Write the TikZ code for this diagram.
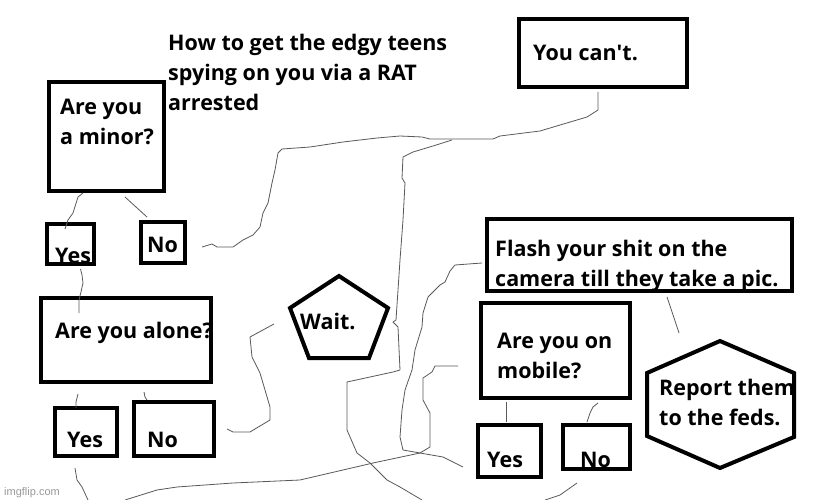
\documentclass[tikz,border=0pt]{standalone}
\usepackage{fontspec}
\setmainfont{Open Sans}
\newfontfamily\markfont{Liberation Sans}

\begin{document}
\begin{tikzpicture}[x=1pt, y=-1pt,
    txt/.style={anchor=base west, inner sep=0pt, align=left, font=\bfseries\fontsize{21.5}{30}\selectfont},
    box/.style={draw, line width=4pt, inner sep=0pt, outer sep=0pt},
    wire/.style={draw=black!65, line width=0.8pt, line join=round}]
  \fill[white] (0,0) rectangle (822,500);
  \useasboundingbox (0,0) rectangle (822,500);

  \node[txt] (ttl) at (168,111) {How to get the edgy teens\\spying on you via a RAT\\arrested};
  \node[txt] (q-minor) at (60,145) {Are you\\a minor?};
  \node[txt] (q-cant) at (533,61) {You can\textquotesingle t.};
  \node[txt] (a-yes1) at (55,263) {Yes};
  \node[txt] (a-no1) at (147,252) {No};
  \node[txt] (q-alone) at (55,338) {Are you alone?};
  \node[txt] (a-yes2) at (67,447) {Yes};
  \node[txt] (a-no2) at (147,447) {No};
  \node[txt] (q-wait) at (300,329) {Wait.};
  \node[txt] (q-flash) at (495,286) {Flash your shit on the\\camera till they take a pic.};
  \node[txt] (q-mobile) at (497,378) {Are you on\\mobile?};
  \node[txt] (a-yes3) at (487,467) {Yes};
  \node[txt] (a-no3) at (580,467) {No};
  \node[txt] (q-feds) at (659,425) {Report them\\to the feds.};
  \node[anchor=base west, inner sep=0pt, text=black!40, font=\markfont\fontsize{11}{11}\selectfont] (mark) at (4,495) {imgflip.com};

  \node[box, minimum width=115, minimum height=109] (minor) at (106.5,136.5) {};
  \node[box, minimum width=168, minimum height=68] (cant) at (603,53) {};
  \node[box, minimum width=47, minimum height=40] (yes1) at (70.5,244) {};
  \node[box, minimum width=44, minimum height=41] (no1) at (163,242.5) {};
  \node[box, minimum width=170, minimum height=84] (alone) at (126,340) {};
  \node[box, minimum width=62, minimum height=48] (yes2) at (86,432) {};
  \node[box, minimum width=80, minimum height=54] (no2) at (174,429) {};
  \node[box, minimum width=305, minimum height=72] (flash) at (639.5,255) {};
  \node[box, minimum width=149, minimum height=95] (mobile) at (555.5,350.5) {};
  \node[box, minimum width=63, minimum height=52] (yes3) at (509.5,451) {};
  \node[box, minimum width=67, minimum height=44] (no3) at (596.5,447) {};

  \draw[line width=4pt, line join=miter] (339,276) -- (388,308) -- (369,358) -- (309,358) -- (290,308) -- cycle;
  \coordinate (h-top) at (720,341);
  \draw[line width=4pt, line join=miter] (h-top) -- (794,373) -- (794,437) -- (720,468) -- (647,436) -- (647,373) -- cycle;

  \coordinate (fork) at (452,140);
  \coordinate (edge-d) at (422,500);
  \coordinate (edge-g) at (125,500);
  \coordinate (edge-h) at (88,500);
  \coordinate (edge-i) at (545,500);

  \draw[wire] ([xshift=34pt,yshift=-2pt]minor.south west) -- (78,197) -- (73,213) -- (68,220)
    -- ([xshift=-5.5pt,yshift=-5pt]yes1.north);
  \draw[wire] ([xshift=18.5pt,yshift=-6pt]minor.south) -- ([xshift=6pt,yshift=5pt]no1.north west);
  \draw[wire] ([xshift=17pt,yshift=-4.5pt]no1.east) -- (212,244) -- (217,247) -- (233,247) -- (243,240)
    -- (253,235) -- (260,227) -- (263,213) -- (268,203) -- (272,183) -- (275,170) -- (278,153)
    -- (282,149) -- (310,147) -- (343,142) -- (377,138) -- (400,136) -- (422,137) -- (430,139)
    -- (453,139) -- (493,139) -- (500,136) -- (540,131) -- (587,117) -- (598,110) -- (598,97)
    -- ([xshift=-5pt,yshift=-5pt]cant.south);
  \draw[wire] (fork) -- (433,146) -- (413,152) -- (403,157) -- (402,178) -- (405,183) -- (403,220)
    -- (400,260) -- (398,290) -- (396,320) -- (393,322) -- (398,327) -- (400,370) -- (393,372)
    -- (347,382) -- (347,430) -- (357,453) -- (370,463) -- (387,480) -- (400,487) -- (edge-d);
  \draw[wire] ([xshift=10pt,yshift=-5pt]yes1.south) -- (82,275) -- (83,283) -- (81,292) -- (79,300)
    -- ([xshift=-47pt,yshift=-15pt]alone.north);
  \draw[wire] ([xshift=-26pt,yshift=-3pt]q-wait.west) -- (250,337) -- (252,357) -- (260,373)
    -- (270,407) -- (270,420) -- (250,432) -- (233,432) -- ([xshift=13pt]no2.east);
  \draw[wire] ([xshift=37pt,yshift=-12pt]alone.south west) -- (76,402) -- ([xshift=-10pt]yes2.north);
  \draw[wire] ([xshift=103pt,yshift=-10pt]alone.south west) -- (145,397)
    -- ([xshift=13pt,yshift=2pt]no2.north west);
  \draw[wire] ([xshift=-11pt,yshift=-12pt]yes2.south) -- (77,480) -- (82,487) -- (edge-h);
  \draw[wire] ([xshift=-5pt,yshift=-8pt]flash.west) -- (455,265) -- (450,271) -- (445,282) -- (440,285)
    -- (428,297) -- (423,313) -- (422,327) -- (415,350) -- (412,370) -- (405,390) -- (402,410)
    -- (400,437) -- (403,450) -- (420,453) -- (443,457) -- ([xshift=-15pt,yshift=-16pt]yes3.west);
  \draw[wire] ([xshift=-23pt,yshift=-15.5pt]mobile.west) -- (435,366) -- (432,372) -- (423,378)
    -- (423,400) -- (430,413) -- (430,447) -- (420,453) -- (373,463) -- (300,480) -- (233,483)
    -- (177,487) -- (157,490) -- (edge-g);
  \draw[wire] ([xshift=25pt,yshift=-4pt]mobile.south west) -- ([xshift=-3.5pt,yshift=3pt]yes3.north);
  \draw[wire] ([xshift=42.5pt,yshift=-5pt]mobile.south) -- (593,407) -- (590,413)
    -- ([xshift=-9.5pt,yshift=3pt]no3.north);
  \draw[wire] ([xshift=-19.5pt,yshift=-14pt]no3.south) -- (560,495) -- (edge-i);
  \draw[wire] ([xshift=27.5pt,yshift=-6pt]flash.south) -- (673,315) -- ([xshift=-41pt,yshift=8pt]h-top);
\end{tikzpicture}
\end{document}
